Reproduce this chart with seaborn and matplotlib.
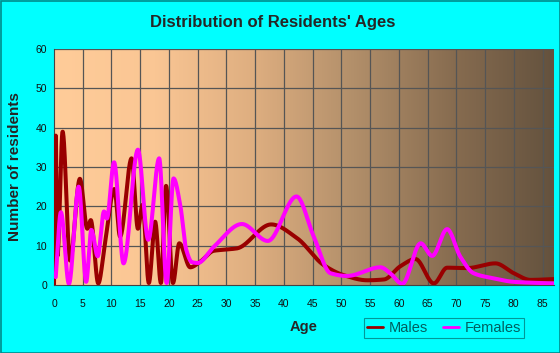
import numpy as np
import pandas as pd
import matplotlib
matplotlib.use("Agg")
import matplotlib.pyplot as plt
from matplotlib.colors import LinearSegmentedColormap
from matplotlib.patches import Rectangle
from matplotlib.ticker import MultipleLocator
from matplotlib.lines import Line2D
import seaborn as sns

# ---- data ----
male_age = [0, 0.3, 0.6, 1.5, 2.8, 4.5, 5.8, 6.4, 7.7, 8.9, 10.5, 11.5, 13.5, 14.6,
            15.4, 16.5, 17.6, 18.6, 19.5, 20.7, 21.8, 23.7, 25.5, 27.8, 29.8, 31.8,
            37.8, 42.3, 46.9, 50.4, 54.5, 57.4, 60.3, 62.9, 66.1, 68.4, 71.9, 76.8,
            80.0, 82.9, 87.0]
male_val = [0, 38, 7.4, 39, 6.2, 27, 14.3, 16.5, 0.4, 11, 24.4, 12.3, 32.2, 14.3,
            20.4, 0.5, 16.1, 0.5, 25.2, 0.5, 10.6, 4.5, 6.0, 8.7, 9.0, 9.3,
            15.4, 11.9, 5.1, 2.5, 1.2, 1.4, 4.8, 6.6, 0.4, 4.4, 4.3, 5.5,
            3.0, 1.3, 1.5]

female_age = [0.3, 1.2, 2.6, 4.3, 5.6, 6.5, 7.6, 8.7, 9.2, 10.45, 12.1, 14.6, 16.4,
              18.3, 19.6, 20.8, 22.0, 23.0, 24.0, 25.0, 27.8, 32.7, 37.2, 42.2, 45.2,
              48.1, 51.0, 56.8, 58.5, 60.6, 63.8, 65.8, 68.4, 70.7, 73.0, 76.5,
              80.0, 87.0]
female_val = [2.0, 18.5, 0.3, 25, 0.8, 14, 7.3, 18.7, 16.9, 31.2, 5.5, 34.4, 11.5,
              32.2, 0.5, 27.1, 20, 9, 5.8, 5.6, 9.7, 15.5, 11.2, 22.5, 12.3,
              3.0, 2.3, 4.5, 3.0, 0.3, 10.6, 7.4, 14.2, 7.2, 3.0, 1.7,
              0.8, 0.4]

series_names = ["Males", "Females"]
x_ticks = list(range(0, 90, 5))
y_ticks = list(range(0, 70, 10))


def pchip(x, y, xs):
    x = np.asarray(x, float); y = np.asarray(y, float)
    h = np.diff(x); delta = np.diff(y) / h
    n = len(x); d = np.zeros(n)
    for k in range(1, n - 1):
        if delta[k - 1] * delta[k] > 0:
            w1 = 2 * h[k] + h[k - 1]; w2 = h[k] + 2 * h[k - 1]
            d[k] = (w1 + w2) / (w1 / delta[k - 1] + w2 / delta[k])
    d[0] = delta[0]; d[-1] = delta[-1]
    idx = np.clip(np.searchsorted(x, xs) - 1, 0, n - 2)
    t = (xs - x[idx]) / h[idx]
    h00 = 2 * t**3 - 3 * t**2 + 1; h10 = t**3 - 2 * t**2 + t
    h01 = -2 * t**3 + 3 * t**2; h11 = t**3 - t**2
    return h00 * y[idx] + h10 * h[idx] * d[idx] + h01 * y[idx + 1] + h11 * h[idx] * d[idx + 1]


xm = np.linspace(male_age[0], male_age[-1], 2000)
xf = np.linspace(female_age[0], female_age[-1], 2000)
df = pd.concat([
    pd.DataFrame({"Age": xm, "n": np.clip(pchip(male_age, male_val, xm), 0, None), "s": series_names[0]}),
    pd.DataFrame({"Age": xf, "n": np.clip(pchip(female_age, female_val, xf), 0, None), "s": series_names[1]}),
])

sns.set_style("white")
plt.rcParams["font.family"] = ["Liberation Sans", "DejaVu Sans"]

fig = plt.figure(figsize=(5.6, 3.53), dpi=100, facecolor="#00FFFF")
W, H = 560, 353
ax = fig.add_axes([54 / W, 1 - 285 / H, 500 / W, 236 / H])

# gradient background
cmap = LinearSegmentedColormap.from_list("bg", [
    (0.0, (255/255, 204/255, 153/255)),
    (0.2, (250/255, 198/255, 148/255)),
    (0.4, (222/255, 174/255, 128/255)),
    (0.6, (178/255, 143/255, 106/255)),
    (0.8, (135/255, 108/255, 80/255)),
    (1.0, (100/255, 82/255, 62/255)),
])
ax.imshow(np.linspace(0, 1, 256).reshape(1, -1), cmap=cmap, aspect="auto",
          extent=[0, 87, 0, 60], zorder=0)

for v in x_ticks[1:]:
    ax.axvline(v, color="#555555", lw=0.9, zorder=1)
for v in y_ticks[1:]:
    ax.axhline(v, color="#555555", lw=0.9, zorder=1)

sns.lineplot(data=df, x="Age", y="n", hue="s", palette=["#990000", "#FF00FF"],
             hue_order=series_names, lw=2.9, ax=ax, legend=False, zorder=3,
             sort=False, estimator=None)

ax.set_xlim(0, 87)
ax.set_ylim(0, 60)
ax.set_xticks(x_ticks)
ax.set_yticks(y_ticks)
ax.xaxis.set_minor_locator(MultipleLocator(1))
ax.tick_params(axis="both", which="both", direction="out", color="#333333",
               labelsize=7.5, labelcolor="#111111")
ax.tick_params(axis="x", which="major", length=4, pad=6)
ax.tick_params(axis="x", which="minor", length=3)
ax.tick_params(axis="y", which="major", length=3, pad=2)
for s in ["top", "right"]:
    ax.spines[s].set_visible(False)
for s in ["left", "bottom"]:
    ax.spines[s].set_color("#444444")
    ax.spines[s].set_linewidth(0.8)
ax.set_xlabel("Age", fontsize=10.5, fontweight="bold", labelpad=8)
ax.set_ylabel("Number of residents", fontsize=11, fontweight="bold", labelpad=10)

fig.text(0.487, 1 - 23 / H, "Distribution of Residents' Ages", ha="center",
         va="center", fontsize=12, fontweight="bold")

handles = [Line2D([], [], color="#990000", lw=2), Line2D([], [], color="#FF00FF", lw=2)]
leg = fig.legend(handles, series_names, loc="center", bbox_to_anchor=(444 / W, 1 - 328 / H),
                 ncol=2, frameon=True, fancybox=False, handlelength=1.1, handletextpad=0.4,
                 columnspacing=1.0, fontsize=10.5, borderpad=0.2, labelcolor="#006060")
leg.get_frame().set_edgecolor("#008080")
leg.get_frame().set_facecolor("#00FFFF")
leg.get_frame().set_linewidth(0.8)

fig.patches.append(Rectangle((0.5 / W, 0.5 / H), 1 - 1 / W, 1 - 1 / H, transform=fig.transFigure,
                             fill=False, edgecolor="#008B8B", lw=1.2))

fig.savefig("out.png", dpi=100, facecolor=fig.get_facecolor())
